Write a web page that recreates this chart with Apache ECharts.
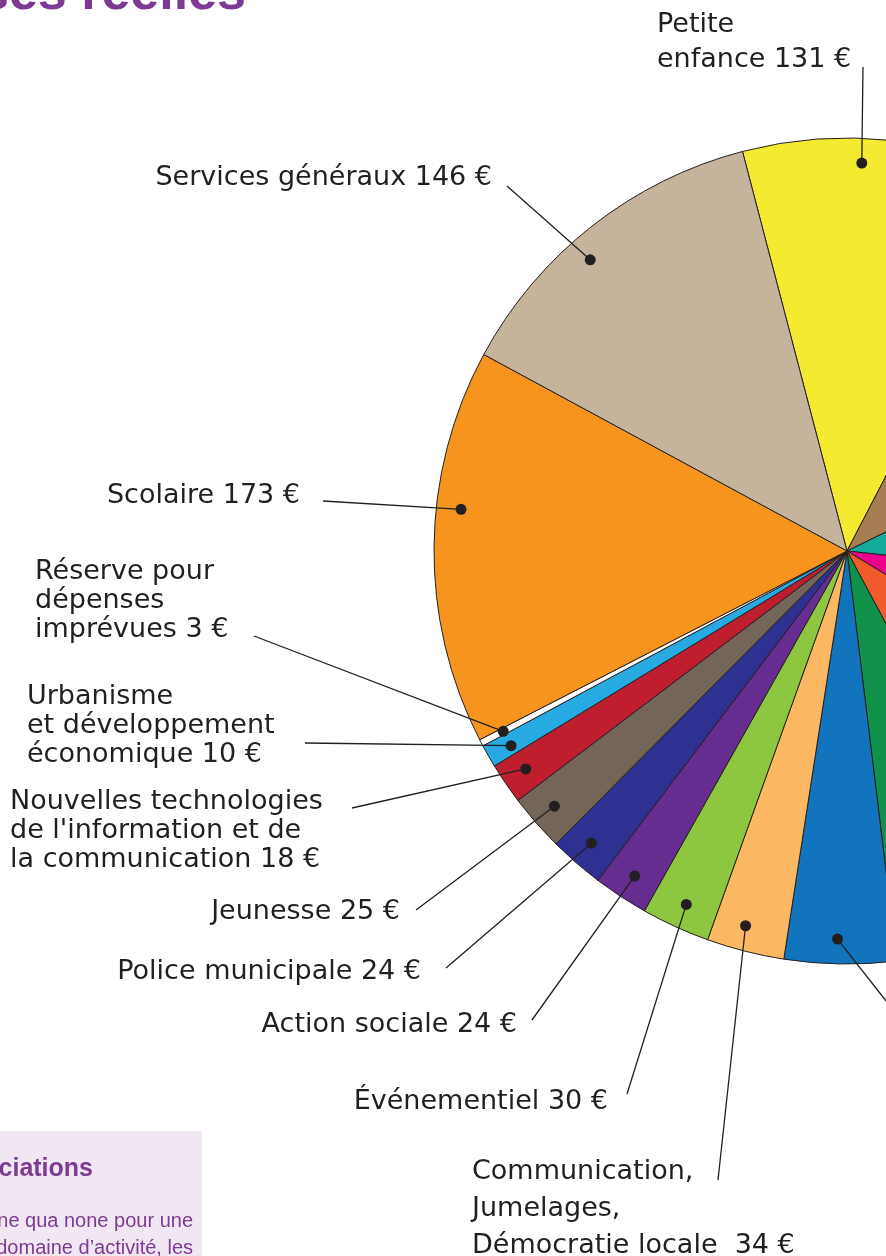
<!DOCTYPE html>
<html>
<head>
<meta charset="utf-8">
<script src="https://cdn.jsdelivr.net/npm/echarts@6/dist/echarts.min.js"></script>
<style>
  html, body { margin: 0; padding: 0; background: #fff; }
  #chart { width: 886px; height: 1256px; }
</style>
</head>
<body>
<div id="chart"></div>
<script>
// données (€ par habitant), dans l'ordre horaire à partir de la petite enfance
const categories = [
  'Petite enfance', 'Espaces verts', 'Sport', 'Culture', 'Voirie', 'Entretien des bâtiments', 'Restauration',
  'Communication, Jumelages, Démocratie locale', 'Événementiel', 'Action sociale', 'Police municipale',
  'Jeunesse', "Nouvelles technologies de l'information et de la communication",
  'Urbanisme et développement économique', 'Réserve pour dépenses imprévues', 'Scolaire', 'Services généraux'
];
const values = [131, 114, 100, 78, 95, 66, 49, 34, 30, 24, 24, 25, 18, 10, 3, 173, 146];
const labelTexts = [
  'Petite\nenfance 131 €', 'Espaces verts 114 €', 'Sport 100 €', 'Culture 78 €', 'Voirie 95 €',
  'Entretien des bâtiments 66 €', 'Restauration 49 €',
  'Communication,\nJumelages,\nDémocratie locale  34 €', 'Événementiel 30 €', 'Action sociale 24 €',
  'Police municipale 24 €', 'Jeunesse 25 €',
  "Nouvelles technologies\nde l'information et de\nla communication 18 €",
  'Urbanisme\net développement\néconomique 10 €', 'Réserve pour\ndépenses\nimprévues 3 €',
  'Scolaire 173 €', 'Services généraux 146 €'
];
const colors = [
  '#f4ea30', '#a67c52', '#14a99d', '#ec008c', '#f15a2b', '#10924a', '#1174bc',
  '#fcb762', '#8dc63f', '#662d91', '#2e3192', '#736558', '#be1e2d', '#27aae1',
  '#ffffff', '#f7941d', '#c5b39c'
];

// mise en page
const CX = 847, CY = 551, R = 413, DOT_R = 0.94;
const START = 104.66;
const dotFrac = [0.40, 0.5, 0.5, 0.5, 0.5, 0.5, 0.53, 0.58, 0.49, 0.49, 0.53, 0.51, 0.52, 0.40, 0.5, 0.60, 0.43];
// [x, y, align, lineHeight]
const labelPos = [
  [657, 42, 'left', 35],
  [1000, 150, 'left', 30], [1000, 450, 'left', 30], [1000, 650, 'left', 30], [1000, 800, 'left', 30],
  [1010, 1010, 'left', 30], [940, 1070, 'left', 30],
  [472, 1209, 'left', 37],
  [608, 1102, 'right', 30], [517, 1025, 'right', 30], [421, 972, 'right', 30], [400, 912, 'right', 30],
  [10, 831, 'left', 29], [27, 726, 'left', 29], [35, 601, 'left', 29],
  [300, 496, 'right', 30], [492, 178, 'right', 30]
];
const lineEnd = [
  [863, 67],
  [990, 150], [990, 450], [990, 650], [990, 800], [1000, 1000], [930, 1057],
  [718, 1180], [627, 1094], [532, 1020], [446, 968], [416, 910],
  [352, 808], [305, 743], [254, 636], [323, 501], [507, 186]
];

const total = values.reduce((a, b) => a + b, 0);
let acc = 0;
const dotAngle = values.map((v, i) => {
  const a = acc + v * dotFrac[i];
  acc += v;
  return a;
});

function dotPixel(i) {
  const rad = (START - dotAngle[i] / total * 360) * Math.PI / 180;
  return [CX + R * DOT_R * Math.cos(rad), CY - R * DOT_R * Math.sin(rad)];
}

const chart = echarts.init(document.getElementById('chart'));
const ink = '#231f20';
const purple = '#7d3a92';

const leaderLines = values.map((v, i) => ({
  type: 'polyline',
  silent: true,
  z: 10,
  shape: { points: [dotPixel(i), lineEnd[i]] },
  style: { stroke: ink, lineWidth: 1.3, fill: null }
}));

chart.setOption({
  animation: false,
  polar: { center: [CX, CY], radius: R },
  angleAxis: {
    type: 'value', min: 0, max: total, startAngle: START, clockwise: true,
    axisLine: { show: false }, axisTick: { show: false }, axisLabel: { show: false }, splitLine: { show: false }
  },
  radiusAxis: {
    type: 'value', min: 0, max: 1,
    axisLine: { show: false }, axisTick: { show: false }, axisLabel: { show: false }, splitLine: { show: false }
  },
  graphic: [
    {
      type: 'text', right: 886 - 246, top: -31,
      style: { text: 'Dépenses réelles', fill: purple, font: 'bold 52px "Liberation Sans", sans-serif' }
    },
    {
      type: 'rect', shape: { x: 0, y: 1131, width: 202, height: 140 },
      style: { fill: '#f1e7f2' }, z: -1
    },
    {
      type: 'text', x: 93, y: 1169,
      style: { text: 'Associations', fill: purple, align: 'right', verticalAlign: 'middle',
               font: 'bold 25px "Liberation Sans", sans-serif' }
    },
    {
      type: 'text', x: 193, y: 1221,
      style: { text: 'Condition sine qua none pour une', fill: purple, align: 'right', verticalAlign: 'middle',
               font: '20px "Liberation Sans", sans-serif' }
    },
    {
      type: 'text', x: 193, y: 1248,
      style: { text: 'structurante dans un domaine d’activité, les', fill: purple, align: 'right', verticalAlign: 'middle',
               font: '20px "Liberation Sans", sans-serif' }
    }
  ].concat(leaderLines),
  series: [
    {
      type: 'pie',
      center: [CX, CY],
      radius: [0, R],
      startAngle: START,
      clockwise: true,
      silent: true,
      itemStyle: { borderColor: ink, borderWidth: 1 },
      emphasis: { disabled: true },
      label: { show: false },
      labelLine: { show: false },
      data: values.map((v, i) => ({
        name: categories[i],
        value: v,
        itemStyle: { color: colors[i] }
      }))
    },
    {
      type: 'scatter',
      coordinateSystem: 'polar',
      symbol: 'circle',
      symbolSize: 11,
      silent: true,
      z: 12,
      itemStyle: { color: ink, opacity: 1 },
      label: {
        show: true, color: ink,
        fontFamily: 'DejaVu Sans', fontSize: 27
      },
      labelLine: { show: false },
      labelLayout: function (p) {
        const lp = labelPos[p.dataIndex];
        return { x: lp[0], y: lp[1], align: lp[2], verticalAlign: 'middle' };
      },
      data: dotAngle.map((a, i) => ({
        name: categories[i],
        value: [DOT_R, a],
        label: { formatter: labelTexts[i], lineHeight: labelPos[i][3] }
      }))
    }
  ]
});
</script>
</body>
</html>
